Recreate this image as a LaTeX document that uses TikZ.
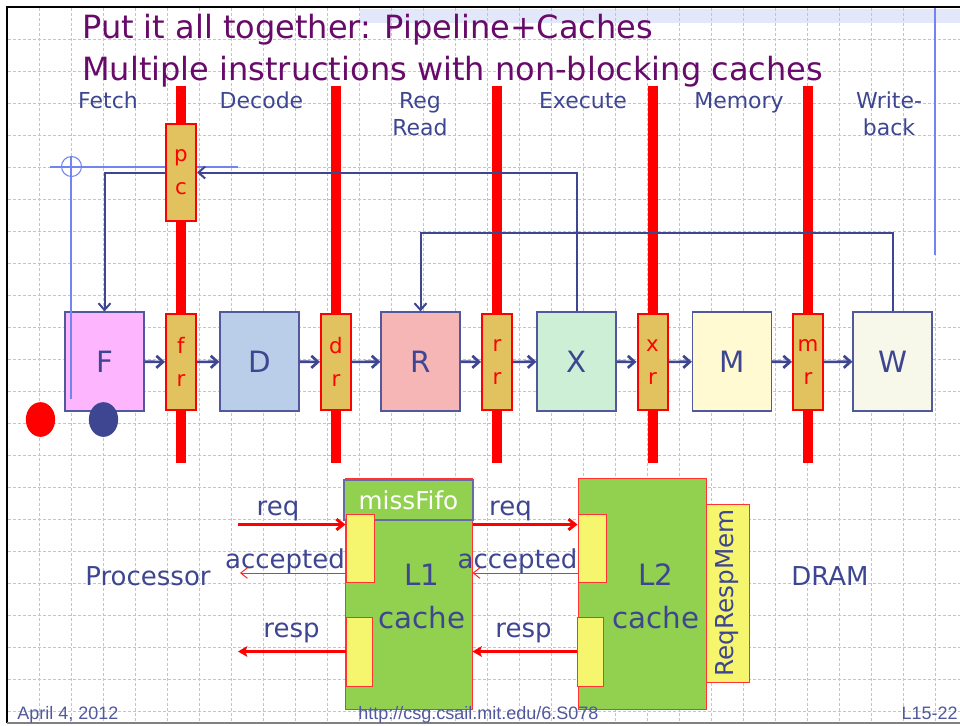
\documentclass[tikz,border=0pt]{standalone}
\usepackage{fontspec}
\setmainfont{DejaVu Sans}
\newfontfamily\footfont{Liberation Sans}
\usetikzlibrary{arrows.meta,positioning,calc}

\definecolor{slate}{HTML}{3E4691}
\definecolor{ttlpurple}{HTML}{680A6A}
\definecolor{latchtan}{HTML}{E1C25F}
\definecolor{gridblue}{HTML}{B3C3F7}
\definecolor{crossblue}{HTML}{7383F0}
\definecolor{bandblue}{HTML}{E2E8FA}
\definecolor{cachegreen}{HTML}{92D050}
\definecolor{portyellow}{HTML}{F5F56E}
\definecolor{fpink}{HTML}{FDB6FD}
\definecolor{dblue}{HTML}{BACEEA}
\definecolor{rred}{HTML}{F6B6B6}
\definecolor{xgreen}{HTML}{CDEFD6}
\definecolor{myellow}{HTML}{FFFAD2}
\definecolor{wwhite}{HTML}{F7F7EA}

\begin{document}
\begin{tikzpicture}[
  x=0.75pt,y=-0.75pt,
  gridline/.style={gridblue,line width=0.5pt,dash pattern=on 2.25pt off 1.5pt},
  bar/.style={red,line width=7.5pt},
  stage/.style={draw=slate!90,line width=0.9pt,minimum width=59.25pt,minimum height=74.25pt,inner sep=0pt,text=slate,font=\fontsize{22}{26}\selectfont},
  latch/.style={draw=red,line width=1.5pt,fill=latchtan,minimum width=22.5pt,minimum height=72.5pt,inner sep=0pt,align=center,text=red,font=\fontsize{16}{24.5}\selectfont},
  arr/.style={-{Straight Barb[length=5pt,width=9pt]},line width=2pt,slate},
  fb/.style={-{Straight Barb[length=5pt,width=9pt]},line width=1.5pt,slate},
  xhair/.style={crossblue,line width=0.8pt},
  ttl/.style={inner sep=0pt,anchor=base west,text=ttlpurple,font=\fontsize{24}{28}\selectfont},
  stlbl/.style={inner sep=0pt,anchor=base,align=center,text=slate,font=\fontsize{16.5}{20.25}\selectfont},
  lbl/.style={inner sep=0pt,anchor=base,align=center,text=slate,font=\fontsize{19.5}{23}\selectfont},
  cache/.style={draw=red!80,line width=0.75pt,fill=cachegreen,inner sep=0pt,minimum height=173.25pt},
  port/.style={draw=red!80,line width=0.75pt,fill=portyellow,inner sep=0pt},
  thk/.style={-{Straight Barb[length=5pt,width=8pt]},red,line width=2.25pt},
  rsp/.style={-{Stealth[length=7pt,width=8pt,inset=1.5pt]},red,line width=2.25pt},
  thn/.style={-{Straight Barb[length=5pt,width=8pt]},red!85,line width=0.75pt},
  foot/.style={inner sep=0pt,text=slate!90,font=\footfont\fontsize{13.5}{16}\selectfont}
]
\useasboundingbox (0,0) rectangle (960,725);
\fill[white] (0,0) rectangle (960,725);
\fill[bandblue] (360,9) rectangle (960,23);
\foreach \gx in {39,71,...,935} \draw[gridline] (\gx,8) -- (\gx,722);
\foreach \gy in {39,71,...,711} \draw[gridline] (8,\gy) -- (960,\gy);
\draw[line width=1.5pt] (960,7) -- (7,7) -- (7,723);
\draw[gray,line width=1.2pt] (7,723) -- (960,723);
\draw[crossblue,line width=1.5pt] (934.5,8) -- (934.5,255);

\node[ttl] (ttl1) at (82,38) {Put it all together: Pipeline+Caches};
\node[ttl] (ttl2) at (82,80) {Multiple instructions with non-blocking caches};

\node[stlbl] (fetch) at (108,108) {Fetch};
\node[stlbl] (decode) at (261.5,108) {Decode};
\node[stlbl] (regread) at (420,135) {Reg\\Read};
\node[stlbl] (execute) at (583,108) {Execute};
\node[stlbl] (memory) at (739,108) {Memory};
\node[stlbl] (wback) at (889,135) {Write-\\back};

\foreach \bx in {180.5,336,497,652.5,808} \draw[bar] (\bx,86) -- (\bx,463);

\node[stage,fill=fpink] (F) at (104.5,361.5) {F};
\node[stage,fill=dblue] (D) at (259.5,361.5) {D};
\node[stage,fill=rred] (R) at (420.5,361.5) {R};
\node[stage,fill=xgreen] (X) at (576.5,361.5) {X};
\node[stage,fill=myellow] (M) at (732,361.5) {M};
\node[stage,fill=wwhite] (W) at (892.5,361.5) {W};

\draw[xhair] (50,167) -- (238,167);
\draw[xhair] (71.5,166.5) circle [radius=7.5pt];
\draw[xhair] (71,156) -- (71,399);

\node[latch] (pc) at (181,172.5) {p\\c};
\node[latch] (fr) at (181,362) {f\\r};
\node[latch] (dr) at (336,362) {d\\r};
\node[latch] (rr) at (497,362) {r\\r};
\node[latch] (xr) at (652.5,362) {x\\r};
\node[latch] (mr) at (808,362) {m\\r};

\draw[arr] (F) -- (fr);
\draw[arr] (fr) -- (D);
\draw[arr] (D) -- (dr);
\draw[arr] (dr) -- (R);
\draw[arr] (R) -- (rr);
\draw[arr] (rr) -- (X);
\draw[arr] (X) -- (xr);
\draw[arr] (xr) -- (M);
\draw[arr] (M) -- (mr);
\draw[arr] (mr) -- (W);

\coordinate (xbend) at (576.5,172.5);
\coordinate (wbend) at (892.5,233);
\draw[fb] (X.north) -- (xbend) -- (pc.east);
\draw[fb] (pc.west) -| (F.north);
\draw[fb] (W.north) -- (wbend) -| (R.north);

\fill[red] (40.5,419.5) ellipse [x radius=11pt,y radius=13pt];
\fill[slate] (103.5,419.5) ellipse [x radius=11pt,y radius=13pt];

\node[cache,minimum width=95.25pt] (L1) at (408.5,593.5) {};
\node[cache,minimum width=96pt] (L2) at (642,593.5) {};
\node[draw=slate!80,line width=0.9pt,fill=cachegreen,minimum width=96.75pt,minimum height=30pt,inner sep=0pt,text=white,font=\fontsize{18.5}{20}\selectfont] (fifo) at (408.5,500) {missFifo};
\node[port,minimum width=21pt,minimum height=51pt] (l1in) at (360,548) {};
\node[port,minimum width=19.5pt,minimum height=51.75pt] (l1out) at (359,651.5) {};
\node[port,minimum width=21pt,minimum height=51pt] (l2in) at (592,548) {};
\node[port,minimum width=19.5pt,minimum height=51.75pt] (l2out) at (590.5,651.5) {};
\node[port,rotate=90,minimum width=133.5pt,minimum height=32.25pt,text=slate,font=\fontsize{18.5}{20}\selectfont] (rrm) at (727.5,593) {ReqRespMem};

\node[lbl,font=\fontsize{22}{32.25}\selectfont] (l1lbl) at (422,628) {L1\\cache};
\node[lbl,font=\fontsize{22}{32.25}\selectfont] (l2lbl) at (656,628) {L2\\cache};

\coordinate (preq) at (238,524.5);
\coordinate (pacc) at (240,573);
\coordinate (presp) at (238,653);
\draw[thk] (preq) -- (preq -| l1in.west);
\draw[thn] (pacc -| l1in.west) -- (pacc);
\draw[rsp] (l1out.west) -- (presp |- l1out.west);
\draw[thk] (preq -| L1.east) -- (preq -| l2in.west);
\draw[thn] (pacc -| l2in.west) -- (pacc -| L1.east);
\draw[rsp] (l2out.west) -- (l2out.west -| L1.east);

\node[lbl] (req1) at (278,515) {req};
\node[lbl] (acc1) at (285,568) {accepted};
\node[lbl] (resp1) at (291.5,637) {resp};
\node[lbl] (req2) at (510.5,515) {req};
\node[lbl] (acc2) at (517.5,568) {accepted};
\node[lbl] (resp2) at (523.5,637) {resp};
\node[lbl] (proc) at (148,585) {Processor};
\node[lbl] (dram) at (830,585) {DRAM};

\node[foot,anchor=base west] (date) at (17,719) {April 4, 2012};
\node[foot,anchor=base west] (url) at (358,719) {http://csg.csail.mit.edu/6.S078};
\node[foot,anchor=base east] (slide) at (958,719) {L15-22};
\end{tikzpicture}
\end{document}
